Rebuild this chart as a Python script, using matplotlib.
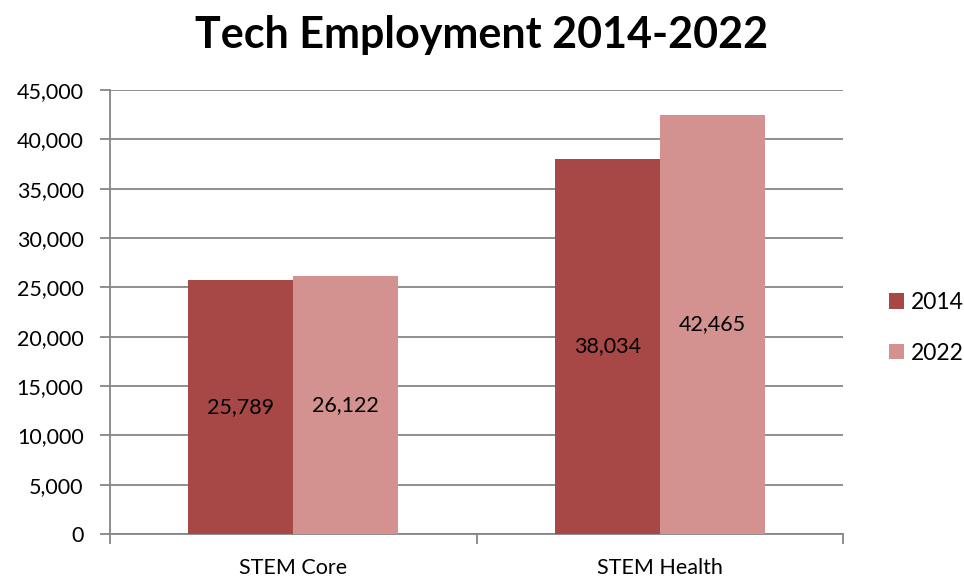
import numpy as np
import matplotlib.pyplot as plt
from matplotlib.ticker import FuncFormatter, FixedLocator

categories = ["STEM Core", "STEM Health"]
years = ["2014", "2022"]
values_2014 = [25789, 38034]
values_2022 = [26122, 42465]
colors = ["#A84846", "#D39190"]

plt.rcParams['font.family'] = ['Lato', 'DejaVu Sans']

fig = plt.figure(figsize=(9.64, 5.81), dpi=100)
ax = fig.add_axes([110 / 964, 47 / 581, 733 / 964, 444 / 581])

x = np.arange(len(categories))
w = 0.2865
for i, (vals, yr) in enumerate([(values_2014, years[0]), (values_2022, years[1])]):
    pos = x + (i - 0.5) * w
    bars = ax.bar(pos, vals, w, color=colors[i], label=yr, zorder=3)
    for b, v in zip(bars, vals):
        ax.text(b.get_x() + b.get_width() / 2, v / 2, f"{v:,}",
                ha="center", va="center", fontsize=15.5, zorder=4)

ax.set_xlim(-0.5, 1.5)
ax.set_ylim(0, 45000)
ax.set_yticks(np.arange(0, 45001, 5000))
ax.yaxis.set_major_formatter(FuncFormatter(lambda v, p: f"{int(v):,}"))
ax.grid(axis="y", color="#868686", linewidth=1.3, zorder=0)

ax.set_xticks(x)
ax.set_xticklabels(categories, fontsize=15.5)
ax.xaxis.set_minor_locator(FixedLocator([-0.5, 0.5, 1.5]))
ax.tick_params(axis="x", which="major", length=0, pad=17)
ax.tick_params(axis="x", which="minor", length=7, width=1.3, color="#868686")
ax.tick_params(axis="y", length=7, width=1.3, color="#868686", labelsize=15.5, pad=12)

for s in ["top", "right"]:
    ax.spines[s].set_visible(False)
for s in ["left", "bottom"]:
    ax.spines[s].set_color("#868686")
    ax.spines[s].set_linewidth(1.3)

fig.text(0.5, 0.975, "Tech Employment 2014-2022", ha="center", va="top",
         fontsize=31, fontweight="bold")

ax.legend(loc="center left", bbox_to_anchor=(1.035, 0.464), frameon=False,
          fontsize=16.5, handlelength=0.65, handleheight=0.65, handletextpad=0.3,
          labelspacing=1.3)

fig.savefig("out.png", dpi=100)
